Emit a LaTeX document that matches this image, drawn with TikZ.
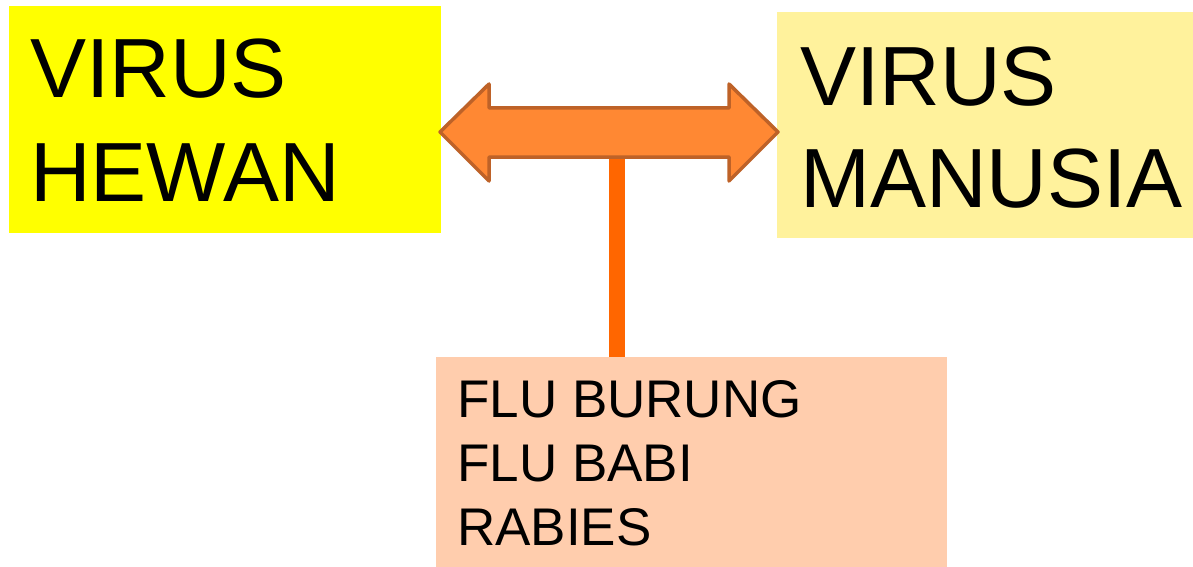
\documentclass[tikz,border=0pt]{standalone}
\usepackage{fontspec}
\setmainfont{Liberation Sans}
\definecolor{boxyellow}{HTML}{FFFF00}
\definecolor{boxlight}{HTML}{FFF29C}
\definecolor{boxpeach}{HTML}{FFCDAD}
\definecolor{arrowfill}{HTML}{FF8833}
\definecolor{arrowline}{HTML}{BE6228}
\definecolor{barorange}{HTML}{FF6600}
\begin{document}
\begin{tikzpicture}[x=1pt,y=-1pt,
  panel/.style={draw=none,inner sep=0pt,outer sep=0pt,anchor=north west},
  bigtext/.style={inner sep=0pt,anchor=base west,font=\fontsize{84}{84}\selectfont},
  smalltext/.style={inner sep=0pt,anchor=base west,font=\fontsize{53}{53}\selectfont}]
\useasboundingbox (0,0) rectangle (1193,567);
% boxes
\node[panel,fill=boxyellow,minimum width=432pt,minimum height=227pt] (hewan) at (9,6) {};
\node[panel,fill=boxlight,minimum width=416pt,minimum height=226pt] (manusia) at (777,12) {};
\node[panel,fill=boxpeach,minimum width=511pt,minimum height=210pt] (list) at (436,357) {};
% texts
\node[bigtext] (t1) at (30,98) {VIRUS};
\node[bigtext] (t2) at (30,201) {HEWAN};
\node[bigtext] (t3) at (800,106) {VIRUS};
\node[bigtext] (t4) at (800,207) {MANUSIA};
\node[smalltext] (l1) at (457,417) {FLU BURUNG};
\node[smalltext] (l2) at (457,481) {FLU BABI};
\node[smalltext] (l3) at (457,545) {RABIES};
% connector bar
\coordinate (barTop) at (617,157);
\fill[barorange] (609,157) rectangle (625,357);
% double arrow
\draw[fill=arrowfill,draw=arrowline,line width=3.5pt,line join=round]
  (440,132) -- (489,84) -- (489,108) -- (729,108) -- (729,84) -- (778,132)
  -- (729,181) -- (729,157) -- (489,157) -- (489,181) -- cycle;
\end{tikzpicture}
\end{document}
